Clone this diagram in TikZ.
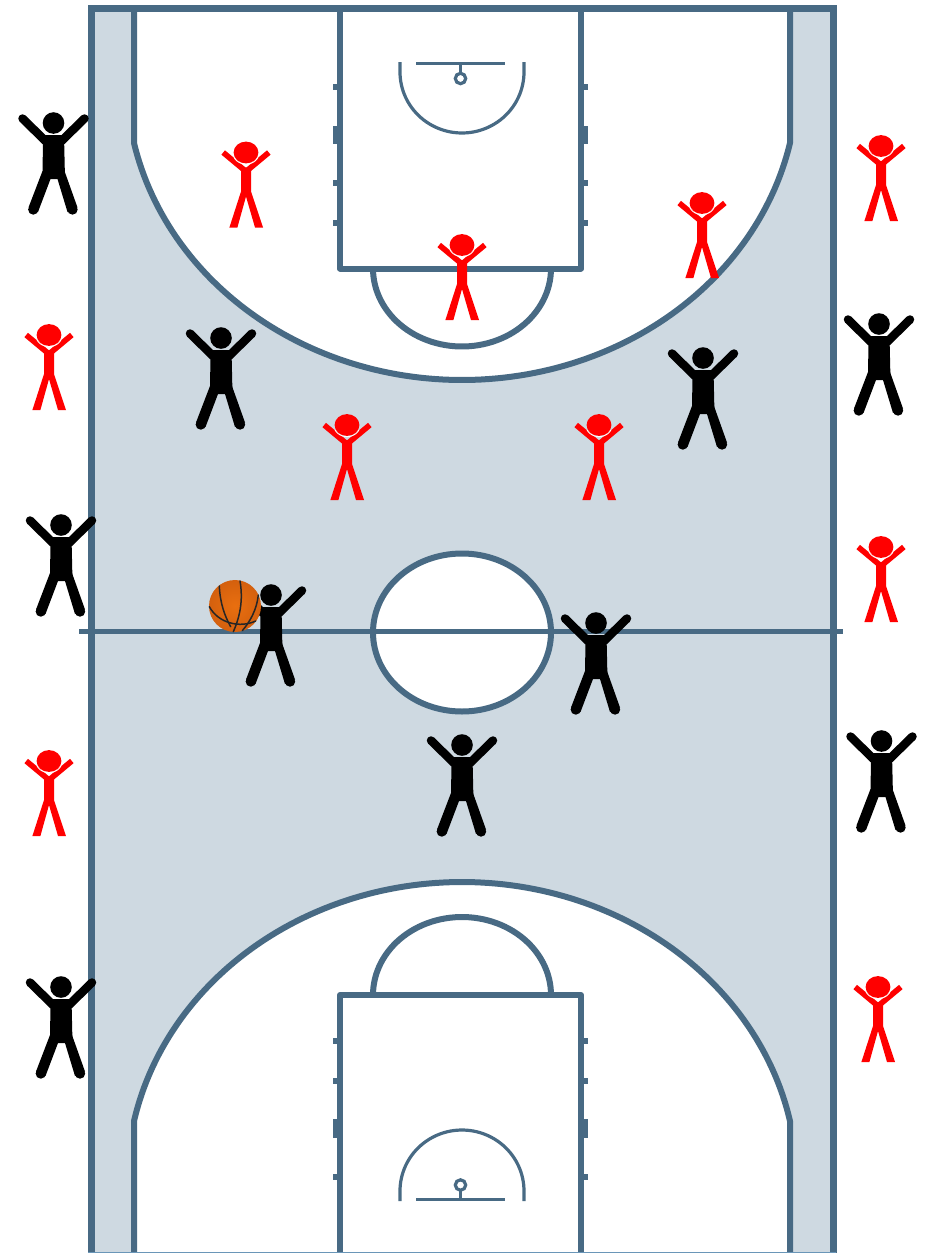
\documentclass[tikz,border=0pt]{standalone}
\definecolor{courtline}{HTML}{486A84}
\definecolor{courtedge}{HTML}{6A96B8}
\definecolor{courtfill}{HTML}{CED9E1}
\definecolor{ballorange}{HTML}{E96F0F}
\definecolor{balldark}{HTML}{D4600E}
\definecolor{figred}{HTML}{FF0000}
\tikzset{
  x=1pt,y=-1pt,
  court/.style={draw=courtline,line width=6pt,line join=round},
  thin court/.style={draw=courtline,line width=3.2pt},
  tick/.style={fill=courtline,draw=none},
  seam/.style={draw=black!85,line width=1.5pt,line cap=round},
  pics/blackman/.style={code={
    \draw[black,line width=8.5pt,line cap=round] (-8,18) -- (-31,-4.5);
    \draw[black,line width=8.5pt,line cap=round] (8,18) -- (31,-4.5);
    \fill[black] (-11,48) -- (-25,84.5) -- (-15.5,89) -- (-3,56) -- cycle;
    \fill[black] (-20.2,86.5) circle[radius=5.2];
    \fill[black] (11,48) -- (24,84.5) -- (14,89) -- (4,56) -- cycle;
    \fill[black] (19,86.5) circle[radius=5.2];
    \fill[black,rounded corners=3pt] (-11,56) -- (-10.5,12) -- (10.5,12) -- (11.5,56) -- cycle;
    \fill[black] (0,0) circle[radius=10.8];
  }},
  pics/redman/.style={code={
    \draw[figred,line width=5.6pt] (-22.8,0) -- (0,19) -- (22.8,0);
    \fill[figred] (-5,15) -- (5,15) -- (5,39) -- (17,75) -- (9,75) -- (0,44) -- (-8.6,75) -- (-16.6,75) -- (-5,39) -- cycle;
    \draw[white,line width=.9pt] plot[domain=25:155,samples=20] ({13.2*cos(\x)},{11.6*sin(\x)});
    \fill[figred] (0,0) ellipse[x radius=12.4,y radius=10.9];
  }},
}
\begin{document}
\begin{tikzpicture}
\useasboundingbox (0,0) rectangle (927,1253);
\fill[white] (0,0) rectangle (927,1253);
% floor
\fill[courtfill] (91,8) rectangle (833,1256);
% three point zones
\path[court,fill=white] (790,8) -- (790,143) -- plot[domain=12.1:167.9,samples=120] ({462+335.5*cos(\x)},{80+300*sin(\x)}) -- (134,143) -- (134,8);
\path[court,fill=white] (790,1262) -- (790,1121) -- plot[domain=11.73:168.27,samples=120] ({462+335*cos(\x)},{1182-300*sin(\x)}) -- (134,1121) -- (134,1262);
% free throw arcs
\path[court,fill=white] (373,268.5) -- plot[domain=180:0,samples=60] ({462+89*cos(\x)},{268.5+78*sin(\x)});
\path[court,fill=white] (373,995) -- plot[domain=180:360,samples=60] ({462+89*cos(\x)},{995+78*sin(\x)});
% keys
\path[court,fill=white] (340,8) rectangle (581,268.5);
\path[court,fill=white] (340,995) rectangle (581,1262);
% key ticks
\foreach \yy/\hh in {86.5/3,135/9,183/3,222.5/3,1041/3,1080.5/3,1128.5/9.5,1177/3}{
  \fill[tick] (333,\yy-\hh) rectangle (338,\yy+\hh);
  \fill[tick] (583,\yy-\hh) rectangle (588,\yy+\hh);
}
% centre circle and halfway line
\path[court,fill=white] (462,632.5) ellipse[x radius=89,y radius=79];
\draw[courtline,line width=5pt] (79,631) -- (843,631);
% outer boundary
\draw[courtline,line width=7pt] (91,1262) -- (91,8) -- (833,8) -- (833,1262);
\draw[courtedge,line width=1.2pt] (88,1252.6) -- (836,1252.6);
% upper basket
\draw[thin court] (400,62) -- plot[domain=180:0,samples=60] ({462+62*cos(\x)},{72+61*sin(\x)}) -- (524,62);
\draw[thin court] (416,63.5) -- (505,63.5);
\draw[thin court] (460.5,63.5) -- (460.5,73);
\draw[thin court,fill=white] (460.5,78.5) circle[radius=5.2];
% lower basket
\draw[thin court] (400,1201) -- plot[domain=180:360,samples=60] ({462+62*cos(\x)},{1191+61*sin(\x)}) -- (524,1201);
\draw[thin court] (416,1199.7) -- (505,1199.7);
\draw[thin court] (460.5,1199.7) -- (460.5,1190);
\draw[thin court,fill=white] (460.5,1185) circle[radius=5.2];
% black players
\foreach \px/\py in {53.5/123,221/338,703/358,879/324,61/525,271/595,596/623,462/745,881.5/741,61/987}{
  \pic at (\px,\py) {blackman};
}
% red players
\foreach \px/\py in {246/152.5,881/146,702/203,462/245,49/335,347/425,599/425,881/547,49/761,878/987}{
  \pic at (\px,\py) {redman};
}
% ball
\shade[inner color=ballorange,outer color=balldark] (235,606) circle[radius=26];
\begin{scope}[shift={(190,560)},x=0.3333pt,y=-0.3333pt]
  \draw[seam] (150,63) .. controls (160,120) and (150,170) .. (130,215);
  \draw[seam] (88,78) .. controls (90,130) and (105,170) .. (122,200);
  \draw[seam] (58,140) .. controls (85,190) and (150,205) .. (197,183);
  \draw[seam] (205,105) .. controls (200,150) and (180,185) .. (157,212);
\end{scope}
\end{tikzpicture}
\end{document}
